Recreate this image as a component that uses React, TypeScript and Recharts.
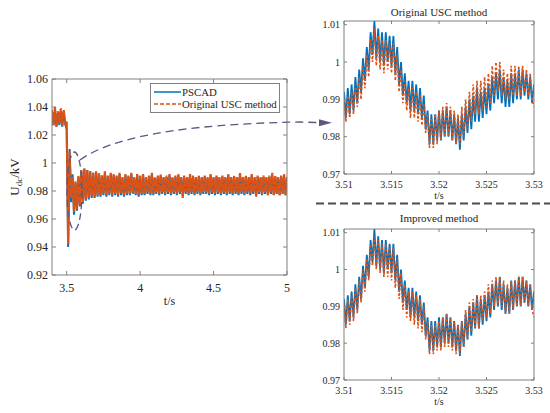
import React from 'react';
import { LineChart, Line, XAxis, YAxis } from 'recharts';

const BLUE = '#0072BD';
const ORANGE = '#D95319';
const AXIS = '#808080';
const TEXT = '#262626';
const ANNOT = '#5E5580';
const FONT = '"Liberation Serif", "Times New Roman", serif';

// ---------- main chart (t = 3.40 s ... 5.00 s, sampled every 0.01 s) ----------
const MAIN_T0 = 3.4;
const MAIN_DT = 0.01;
const mainPSCAD = [
  1.036, 1.027, 1.037, 1.026, 1.035, 1.027, 1.037, 1.026, 1.036, 1.028,
  1.024, 0.940, 1.010, 0.972, 0.992, 0.963, 0.986, 0.966, 0.990, 0.969,
  0.994, 0.971, 0.996, 0.973, 0.995, 0.974, 0.994, 0.975, 0.993, 0.975,
  0.993, 0.976,
  0.992, 0.976, 0.991, 0.977, 0.993, 0.976, 0.990, 0.977, 0.992, 0.976,
  0.991, 0.977, 0.990, 0.976, 0.992, 0.977, 0.989, 0.976, 0.991, 0.977,
  0.990, 0.977, 0.992, 0.978, 0.989, 0.977, 0.991, 0.976, 0.990, 0.977,
  0.991, 0.977, 0.989, 0.978, 0.990, 0.977, 0.992, 0.977, 0.989, 0.978,
  0.990, 0.977, 0.991, 0.978, 0.989, 0.977, 0.990, 0.978, 0.991, 0.977,
  0.989, 0.978, 0.990, 0.977, 0.991, 0.978, 0.989, 0.977, 0.990, 0.978,
  0.989, 0.977, 0.991, 0.978, 0.990, 0.977, 0.989, 0.978, 0.990, 0.977,
  0.989, 0.978, 0.990, 0.978, 0.989, 0.977, 0.991, 0.978, 0.989, 0.977,
  0.990, 0.978, 0.989, 0.977, 0.990, 0.978, 0.989, 0.977, 0.991, 0.978,
  0.989, 0.977, 0.990, 0.978, 0.989, 0.977, 0.990, 0.978, 0.989, 0.977,
  0.990, 0.978, 0.989, 0.977, 0.991, 0.978, 0.989, 0.977, 0.990, 0.978,
  0.989, 0.977, 0.990, 0.978, 0.989, 0.977, 0.990, 0.978, 0.989, 0.977,
  0.990, 0.978, 0.989, 0.977, 0.990, 0.978, 0.989, 0.977, 0.990,
];
const mainOriginal = [
  1.038, 1.027, 1.040, 1.026, 1.037, 1.028, 1.039, 1.027, 1.038, 1.027,
  1.030, 0.942, 1.008, 0.975, 0.990, 0.965, 0.987, 0.967, 0.991, 0.970,
  0.995, 0.972, 0.996, 0.974, 0.995, 0.975, 0.994, 0.976, 0.993, 0.976,
  0.994, 0.977,
  0.993, 0.977, 0.991, 0.978, 0.994, 0.977, 0.991, 0.978, 0.993, 0.977,
  0.992, 0.978, 0.991, 0.977, 0.993, 0.978, 0.990, 0.977, 0.992, 0.978,
  0.991, 0.978, 0.993, 0.979, 0.990, 0.978, 0.992, 0.977, 0.991, 0.978,
  0.992, 0.978, 0.990, 0.979, 0.991, 0.978, 0.993, 0.978, 0.990, 0.979,
  0.991, 0.978, 0.992, 0.979, 0.990, 0.978, 0.991, 0.979, 0.992, 0.978,
  0.990, 0.979, 0.991, 0.978, 0.992, 0.979, 0.990, 0.975, 0.991, 0.979,
  0.990, 0.978, 0.992, 0.979, 0.991, 0.978, 0.990, 0.979, 0.991, 0.978,
  0.990, 0.979, 0.991, 0.979, 0.990, 0.978, 0.992, 0.979, 0.990, 0.978,
  0.991, 0.979, 0.990, 0.978, 0.991, 0.979, 0.990, 0.978, 0.992, 0.979,
  0.990, 0.978, 0.991, 0.979, 0.990, 0.978, 0.993, 0.979, 0.990, 0.978,
  0.991, 0.979, 0.990, 0.978, 0.992, 0.979, 0.990, 0.976, 0.991, 0.979,
  0.990, 0.978, 0.991, 0.979, 0.990, 0.977, 0.991, 0.979, 0.993, 0.977,
  0.991, 0.978, 0.990, 0.977, 0.991, 0.978, 0.992, 0.977, 0.990,
];
const mainXTicks = [3.5, 4, 4.5, 5];
const mainYTicks = [0.92, 0.94, 0.96, 0.98, 1, 1.02, 1.04, 1.06];

// ---------- zoom charts (t = 3.510 s ... 3.530 s, sampled every 0.0002 s) ----------
const ZOOM_T0 = 3.51;
const ZOOM_DT = 0.0002;
const zoomPSCAD = [
  0.992, 0.985, 0.993, 0.986, 0.994, 0.987, 0.996, 0.989, 0.998, 0.992,
  1.001, 0.995, 1.004, 0.998, 1.008, 1.002, 1.011, 1.001, 1.009, 1.000,
  1.008, 0.999, 1.008, 1.000, 1.007, 0.999, 1.007, 0.997, 1.004, 0.994,
  1.000, 0.991, 0.997, 0.989, 0.995, 0.987, 0.995, 0.987, 0.994, 0.986,
  0.993, 0.985, 0.991, 0.982, 0.987, 0.978, 0.986, 0.978, 0.986, 0.979,
  0.987, 0.979, 0.987, 0.980, 0.988, 0.980, 0.987, 0.979, 0.986, 0.978,
  0.985, 0.9765, 0.986, 0.979, 0.988, 0.981, 0.990, 0.982, 0.991, 0.984,
  0.993, 0.984, 0.992, 0.985, 0.993, 0.986, 0.994, 0.987, 0.996, 0.989,
  0.997, 0.990, 0.998, 0.989, 0.996, 0.988, 0.995, 0.988, 0.997, 0.989,
  0.997, 0.990, 0.998, 0.990, 0.998, 0.991, 0.997, 0.990, 0.996, 0.989,
  0.994,
];
const zoomOriginal = [
  0.990, 0.984, 0.991, 0.985, 0.992, 0.986, 0.994, 0.988, 0.996, 0.990,
  0.999, 0.993, 1.002, 0.996, 1.006, 1.000, 1.009, 0.999, 1.007, 0.998,
  1.006, 0.997, 1.006, 0.998, 1.005, 0.997, 1.005, 0.995, 1.002, 0.992,
  0.998, 0.989, 0.995, 0.987, 0.993, 0.985, 0.993, 0.985, 0.992, 0.984,
  0.991, 0.983, 0.989, 0.981, 0.986, 0.977, 0.985, 0.977, 0.986, 0.978,
  0.987, 0.979, 0.988, 0.980, 0.989, 0.980, 0.988, 0.979, 0.987, 0.978,
  0.986, 0.978, 0.988, 0.980, 0.990, 0.982, 0.992, 0.984, 0.994, 0.986,
  0.995, 0.986, 0.995, 0.987, 0.996, 0.988, 0.997, 0.989, 0.999, 0.991,
  1.000, 0.992, 1.000, 0.991, 0.998, 0.990, 0.997, 0.990, 0.999, 0.991,
  0.999, 0.991, 0.999, 0.991, 0.999, 0.992, 0.998, 0.991, 0.997, 0.990,
  0.988,
];
const zoomImproved = [
  0.990, 0.984, 0.992, 0.985, 0.993, 0.986, 0.995, 0.988, 0.997, 0.991,
  1.000, 0.994, 1.003, 0.997, 1.007, 1.001, 1.009, 1.000, 1.008, 0.999,
  1.007, 0.998, 1.007, 0.998, 1.006, 0.997, 1.006, 0.995, 1.003, 0.992,
  0.999, 0.989, 0.996, 0.987, 0.994, 0.986, 0.994, 0.985, 0.993, 0.984,
  0.992, 0.983, 0.990, 0.981, 0.986, 0.977, 0.985, 0.977, 0.985, 0.978,
  0.986, 0.978, 0.987, 0.979, 0.988, 0.979, 0.987, 0.978, 0.986, 0.977,
  0.985, 0.977, 0.986, 0.979, 0.989, 0.981, 0.991, 0.983, 0.992, 0.984,
  0.993, 0.984, 0.993, 0.986, 0.994, 0.987, 0.996, 0.988, 0.997, 0.990,
  0.998, 0.990, 0.998, 0.990, 0.997, 0.988, 0.996, 0.988, 0.997, 0.989,
  0.997, 0.990, 0.998, 0.990, 0.998, 0.991, 0.997, 0.990, 0.996, 0.989,
  0.987,
];
const zoomXTicks = [3.51, 3.515, 3.52, 3.525, 3.53];
const zoomYTicks = [0.97, 0.98, 0.99, 1, 1.01];

const mainData = mainPSCAD.map((v, i) => ({
  t: Number((MAIN_T0 + i * MAIN_DT).toFixed(4)),
  pscad: v,
  original: mainOriginal[i],
}));
const topZoomData = zoomPSCAD.map((v, i) => ({
  t: Number((ZOOM_T0 + i * ZOOM_DT).toFixed(5)),
  pscad: v,
  other: zoomOriginal[i],
}));
const bottomZoomData = zoomPSCAD.map((v, i) => ({
  t: Number((ZOOM_T0 + i * ZOOM_DT).toFixed(5)),
  pscad: v,
  other: zoomImproved[i],
}));

const blank = () => '';

const YLabel = (props: any) => {
  const vb = props.viewBox || { x: 0, y: 79, width: 40, height: 196 };
  const cx = 19;
  const cy = vb.y + vb.height / 2;
  return (
    <text
      x={cx}
      y={cy}
      transform={`rotate(-90, ${cx}, ${cy})`}
      textAnchor="middle"
      fill={TEXT}
      fontFamily={FONT}
      fontSize={13}
    >
      U
      <tspan dy={3} fontSize={9}>dc</tspan>
      <tspan dy={-3}>/kV</tspan>
    </text>
  );
};

const MainLegend = () => (
  <div
    style={{
      position: 'absolute',
      left: 150,
      top: 83,
      width: 130,
      height: 30,
      boxSizing: 'border-box',
      border: `1px solid ${AXIS}`,
      background: '#fff',
      fontFamily: FONT,
      fontSize: 10.8,
      lineHeight: '12px',
      color: TEXT,
      paddingTop: 2,
    }}
  >
    <div style={{ display: 'flex', alignItems: 'center', height: 12 }}>
      <svg width={31} height={12} style={{ flex: 'none' }}>
        <line x1={3} x2={30} y1={6} y2={6} stroke={BLUE} strokeWidth={1.5} />
      </svg>
      <span>PSCAD</span>
    </div>
    <div style={{ display: 'flex', alignItems: 'center', height: 12 }}>
      <svg width={31} height={12} style={{ flex: 'none' }}>
        <line x1={3} x2={30} y1={6} y2={6} stroke={ORANGE} strokeWidth={1.5} strokeDasharray="4 2" />
      </svg>
      <span style={{ whiteSpace: 'nowrap' }}>Original USC method</span>
    </div>
  </div>
);

function MainChart() {
  const tickStyle = { fontFamily: FONT, fontSize: 12, fill: TEXT };
  return (
    <LineChart
      width={300}
      height={313}
      data={mainData}
      margin={{ top: 78, right: 12, left: 12, bottom: 8 }}
      style={{ fontFamily: FONT }}
    >
      <XAxis
        dataKey="t"
        type="number"
        domain={[3.4, 5]}
        ticks={mainXTicks}
        allowDataOverflow
        height={30}
        stroke={AXIS}
        tick={tickStyle}
        tickSize={-4}
        tickMargin={12}
        label={{ value: 't/s', position: 'insideBottom', offset: 0, fill: TEXT, fontFamily: FONT, fontSize: 12 }}
      />
      <XAxis
        xAxisId="top"
        dataKey="t"
        type="number"
        orientation="top"
        domain={[3.4, 5]}
        ticks={mainXTicks}
        allowDataOverflow
        height={1}
        stroke={AXIS}
        tickSize={-4}
        tickFormatter={blank}
      />
      <YAxis
        type="number"
        domain={[0.92, 1.06]}
        ticks={mainYTicks}
        allowDataOverflow
        width={40}
        stroke={AXIS}
        tick={tickStyle}
        tickSize={-4}
        tickMargin={8}
        label={{ content: (p: any) => <YLabel {...p} /> }}
      />
      <YAxis
        yAxisId="right"
        orientation="right"
        type="number"
        domain={[0.92, 1.06]}
        ticks={mainYTicks}
        allowDataOverflow
        width={1}
        stroke={AXIS}
        tickSize={-4}
        tickFormatter={blank}
      />
      <Line
        dataKey="pscad"
        name="PSCAD"
        stroke={BLUE}
        strokeWidth={2}
        dot={false}
        activeDot={false}
        type="linear"
        isAnimationActive={false}
      />
      <Line
        dataKey="original"
        name="Original USC method"
        stroke={ORANGE}
        strokeWidth={2.2}
        strokeDasharray="9 1"
        dot={false}
        activeDot={false}
        type="linear"
        isAnimationActive={false}
      />
    </LineChart>
  );
}

function ZoomChart({ data, height }: any) {
  const tickStyle = { fontFamily: FONT, fontSize: 10, fill: TEXT };
  return (
    <LineChart
      width={250}
      height={height}
      data={data}
      margin={{ top: 20, right: 15, left: 14, bottom: 6 }}
      style={{ fontFamily: FONT }}
    >
      <XAxis
        dataKey="t"
        type="number"
        domain={[3.51, 3.53]}
        ticks={zoomXTicks}
        allowDataOverflow
        height={25}
        stroke={AXIS}
        tick={tickStyle}
        tickSize={-3}
        tickMargin={10}
        label={{ value: 't/s', position: 'insideBottom', offset: 0, fill: TEXT, fontFamily: FONT, fontSize: 10 }}
      />
      <XAxis
        xAxisId="top"
        dataKey="t"
        type="number"
        orientation="top"
        domain={[3.51, 3.53]}
        ticks={zoomXTicks}
        allowDataOverflow
        height={1}
        stroke={AXIS}
        tickSize={-3}
        tickFormatter={blank}
      />
      <YAxis
        type="number"
        domain={[0.97, 1.011]}
        ticks={zoomYTicks}
        allowDataOverflow
        width={30}
        stroke={AXIS}
        tick={tickStyle}
        tickSize={-3}
        tickMargin={7}
      />
      <YAxis
        yAxisId="right"
        orientation="right"
        type="number"
        domain={[0.97, 1.011]}
        ticks={zoomYTicks}
        allowDataOverflow
        width={1}
        stroke={AXIS}
        tickSize={-3}
        tickFormatter={blank}
      />
      <Line
        dataKey="pscad"
        stroke={BLUE}
        strokeWidth={1.8}
        dot={false}
        activeDot={false}
        type="linear"
        isAnimationActive={false}
      />
      <Line
        dataKey="other"
        stroke={ORANGE}
        strokeWidth={1.6}
        strokeDasharray="2.5 2"
        dot={false}
        activeDot={false}
        type="linear"
        isAnimationActive={false}
      />
    </LineChart>
  );
}

export default function App() {
  return (
    <div
      style={{
        position: 'relative',
        width: 550,
        height: 413,
        background: '#fff',
        overflow: 'hidden',
        fontFamily: FONT,
      }}
    >
      <style>{'body{margin:0;background:#fff;}'}</style>
      <div style={{ position: 'absolute', left: 0, top: 0 }}>
        <MainChart />
      </div>
      <MainLegend />
      <div style={{ position: 'absolute', left: 300, top: 0 }}>
        <ZoomChart data={topZoomData} height={205} />
      </div>
      <div style={{ position: 'absolute', left: 300, top: 208 }}>
        <ZoomChart data={bottomZoomData} height={203} />
      </div>
      <svg
        width={550}
        height={413}
        style={{ position: 'absolute', left: 0, top: 0, pointerEvents: 'none' }}
      >
        <text x={439} y={15.6} textAnchor="middle" fontFamily={FONT} fontSize={11} fill={TEXT}>
          Original USC method
        </text>
        <text x={439} y={222.3} textAnchor="middle" fontFamily={FONT} fontSize={11} fill={TEXT}>
          Improved method
        </text>
        <ellipse cx={74.5} cy={191} rx={7.5} ry={39} fill="none" stroke={ANNOT} strokeWidth={1.3} strokeDasharray="7 4" />
        <path
          d="M80,160 C110,138 180,124 300,122 L320,122.6"
          fill="none"
          stroke={ANNOT}
          strokeWidth={1.3}
          strokeDasharray="8 5"
        />
        <polygon points="319,119.2 332,122.7 319,126.2" fill={ANNOT} />
        <line x1={316} y1={203.5} x2={550} y2={203.5} stroke="#4d4d4d" strokeWidth={2} strokeDasharray="8 4" />
      </svg>
    </div>
  );
}
